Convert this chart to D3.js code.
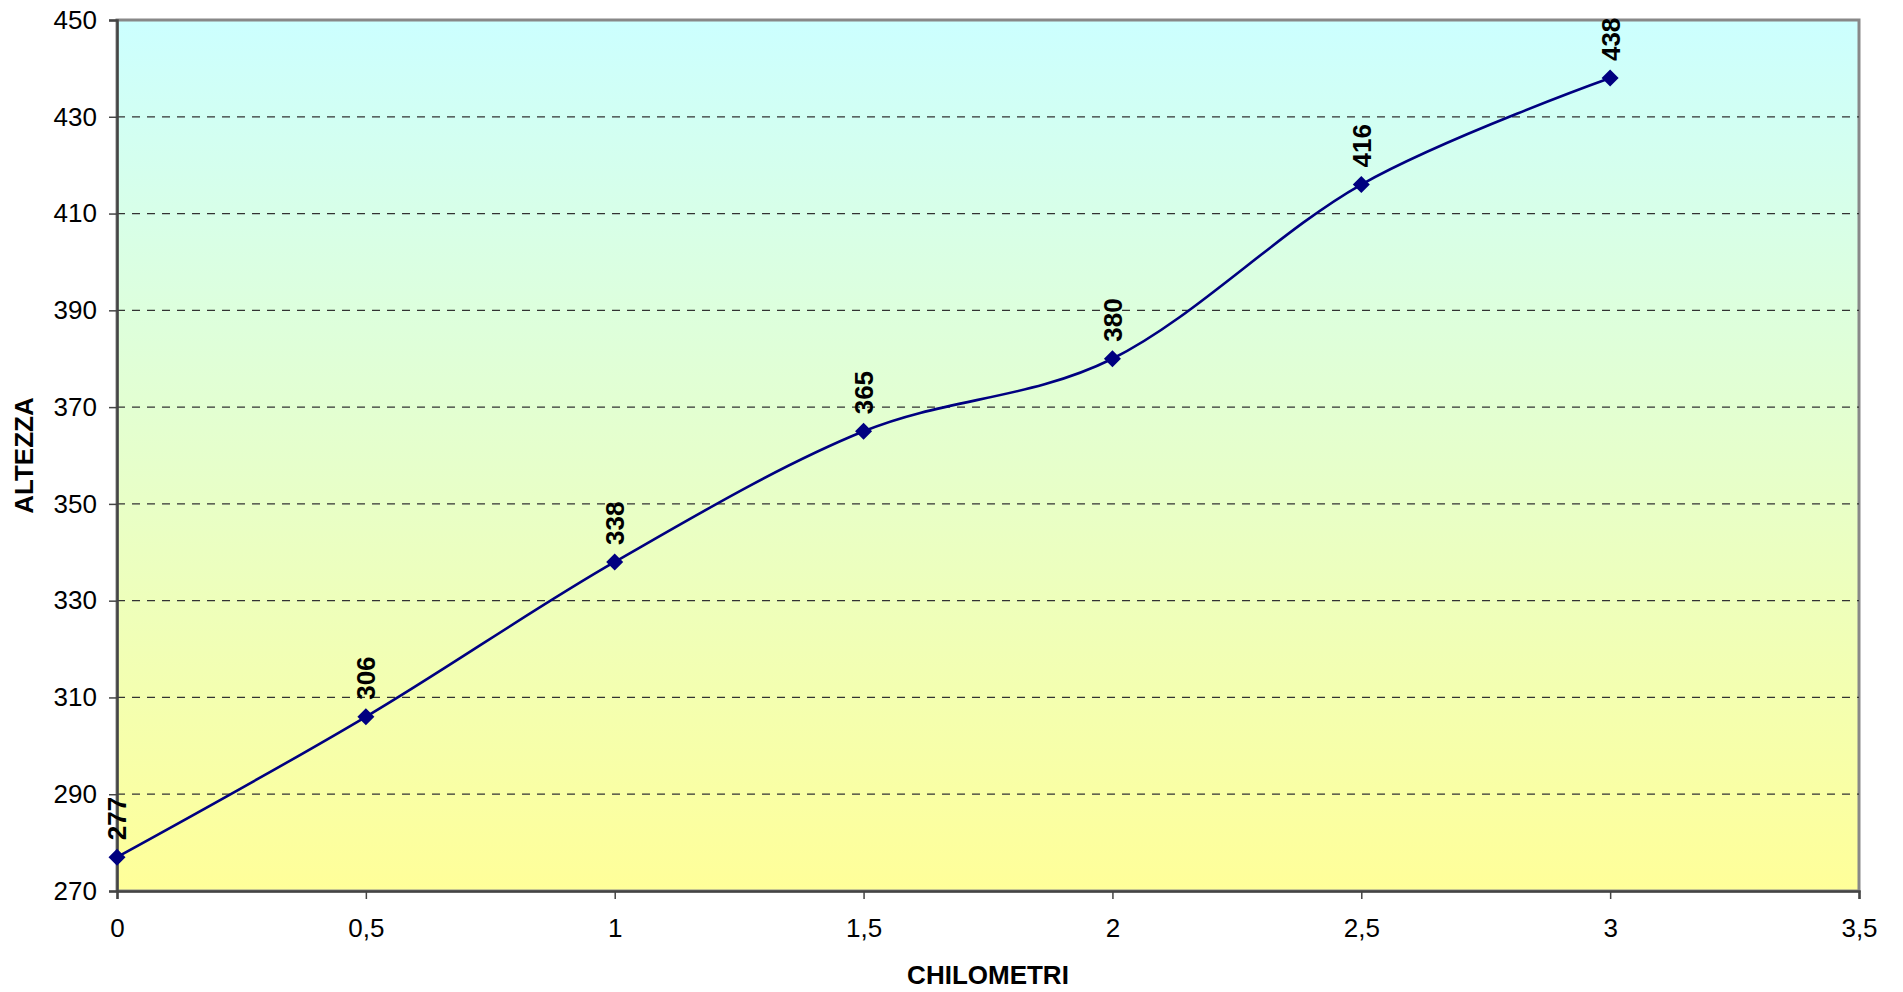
<!DOCTYPE html>
<html>
<head>
<meta charset="utf-8">
<script src="https://cdn.jsdelivr.net/npm/d3@7"></script>
<style>
  html, body { margin: 0; padding: 0; background: #fff; }
  svg { display: block; font-family: Arial, "Liberation Sans", sans-serif; }
</style>
</head>
<body>
<svg id="chart" width="1903" height="992"></svg>
<script>
const kmValues = [0, 0.5, 1, 1.5, 2, 2.5, 3];
const altitudeValues = [277, 306, 338, 365, 380, 416, 438];
const xTicks = [0, 0.5, 1, 1.5, 2, 2.5, 3, 3.5];
const yTicks = [270, 290, 310, 330, 350, 370, 390, 410, 430, 450];
const xTitle = "CHILOMETRI";
const yTitle = "ALTEZZA";

(function () {
const svg = d3.select("#chart");
const pLeft = 117, pRight = 1859, pTop = 20, pBottom = 891;

const x = d3.scaleLinear().domain([0, 3.5]).range([pLeft, pRight]);
const y = d3.scaleLinear().domain([270, 450]).range([pBottom, pTop]);
const fmt = v => String(v).replace(".", ",");

const defs = svg.append("defs");
const grad = defs.append("linearGradient").attr("id", "bg")
  .attr("x1", 0).attr("y1", 0).attr("x2", 0).attr("y2", 1);
grad.append("stop").attr("offset", "0%").attr("stop-color", "#CCFFFF");
grad.append("stop").attr("offset", "100%").attr("stop-color", "#FFFF99");

// plot background
svg.append("rect")
  .attr("x", pLeft).attr("y", pTop)
  .attr("width", pRight - pLeft).attr("height", pBottom - pTop)
  .attr("fill", "url(#bg)")
  .attr("stroke", "#888").attr("stroke-width", 3);

// gridlines
svg.append("g").selectAll("line")
  .data(yTicks.filter(d => d > 270 && d < 450))
  .join("line")
  .attr("x1", pLeft).attr("x2", pRight)
  .attr("y1", d => y(d)).attr("y2", d => y(d))
  .attr("stroke", "#333").attr("stroke-width", 1.2)
  .attr("stroke-dasharray", "8,7");

// axes
const yAxis = svg.append("g")
  .attr("transform", `translate(${pLeft},0)`)
  .call(d3.axisLeft(y).tickValues(yTicks).tickSize(8).tickPadding(12).tickFormat(fmt));
const xAxis = svg.append("g")
  .attr("transform", `translate(0,${pBottom})`)
  .call(d3.axisBottom(x).tickValues(xTicks).tickSize(8).tickPadding(20).tickFormat(fmt));
[yAxis, xAxis].forEach(g => {
  g.select(".domain").attr("stroke", "#444").attr("stroke-width", 2.5);
  g.selectAll(".tick line").attr("stroke", "#444").attr("stroke-width", 1.5);
  g.selectAll("text").attr("fill", "#000").attr("font-size", 26)
    .attr("font-family", "Arial, 'Liberation Sans', sans-serif");
});

// titles
svg.append("text")
  .attr("x", (pLeft + pRight) / 2).attr("y", 984)
  .attr("text-anchor", "middle")
  .attr("font-size", 26).attr("font-weight", "bold")
  .text(xTitle);
svg.append("text")
  .attr("transform", `translate(33,${(pTop + pBottom) / 2}) rotate(-90)`)
  .attr("text-anchor", "middle")
  .attr("font-size", 26).attr("font-weight", "bold")
  .text(yTitle);

const data = kmValues.map((k, i) => ({ k, a: altitudeValues[i] }));

// line
svg.append("path")
  .datum(data)
  .attr("fill", "none")
  .attr("stroke", "#000080")
  .attr("stroke-width", 2.6)
  .attr("d", d3.line().x(d => x(d.k)).y(d => y(d.a)).curve(d3.curveCatmullRom.alpha(0)));

// markers
svg.append("g").selectAll("path")
  .data(data)
  .join("path")
  .attr("transform", d => `translate(${x(d.k)},${y(d.a)})`)
  .attr("d", "M0,-8.5L8.5,0L0,8.5L-8.5,0Z")
  .attr("fill", "#000080");

// data labels
svg.append("g").selectAll("text")
  .data(data)
  .join("text")
  .attr("transform", d => `translate(${x(d.k)},${y(d.a) - 17}) rotate(-90)`)
  .attr("dy", "0.36em")
  .attr("text-anchor", "start")
  .attr("font-size", 26).attr("font-weight", "bold")
  .attr("fill", "#000")
  .text(d => d.a);
})();
</script>
</body>
</html>
